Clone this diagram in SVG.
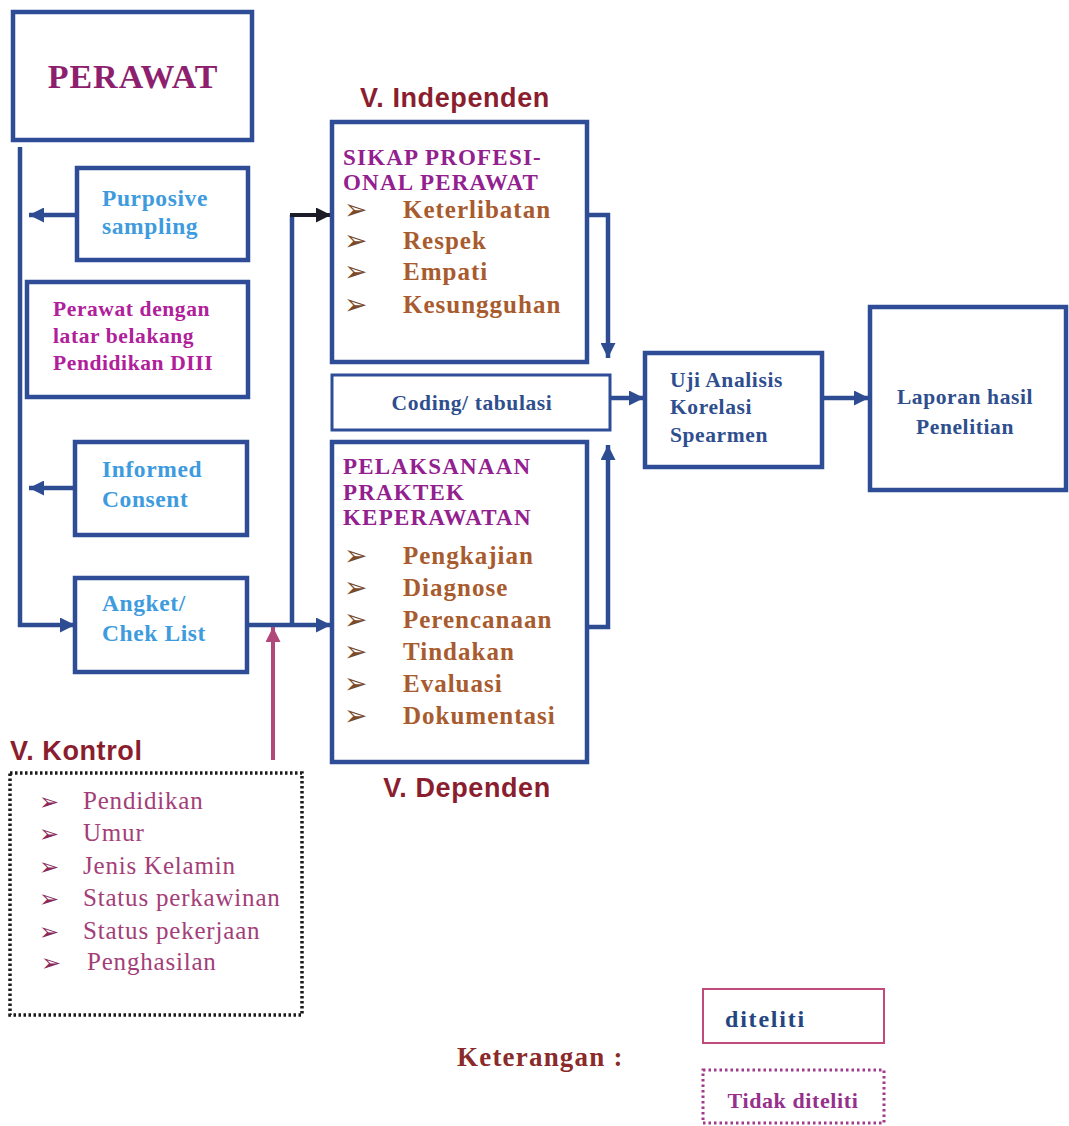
<svg xmlns="http://www.w3.org/2000/svg" width="1069" height="1126" viewBox="0 0 1069 1126">
<style>
.box{fill:#fff;stroke:#2F4D96;stroke-width:4.5}
.thin{fill:#fff;stroke:#2F4D96;stroke-width:3}
.dot{fill:none;stroke:#1a1a1a;stroke-width:3.5;stroke-dasharray:2.5 2.5}
.conn{fill:none;stroke:#2D4C92;stroke-width:4.5}
.serif{font-family:"Liberation Serif","Times New Roman",serif;font-weight:bold}
.sans{font-family:"Liberation Sans",Arial,sans-serif;font-weight:bold}
.lb{fill:#3E9BDE;font-size:23.5px;letter-spacing:0.6px}
.mg{fill:#B0209A;font-size:21.5px;letter-spacing:0.6px}
.hd{fill:#93208F;font-size:23px;letter-spacing:1.2px}
.it{fill:#A85B2E;font-size:25px;letter-spacing:1px}
.bl{fill:#7A4A2A;font-family:"DejaVu Sans",sans-serif;font-size:28px}
.nv{fill:#2E4E8E;font-size:21.5px;letter-spacing:0.6px}
.vl{fill:#8A1E2E;font-size:27px;letter-spacing:0.6px}
.kt{fill:#A33E78;font-family:"Liberation Serif","Times New Roman",serif;font-size:25px;letter-spacing:0.8px}
.kb{fill:#8A2A5A;font-family:"DejaVu Sans",sans-serif;font-size:24px}
</style>
<defs>
<marker id="ab" viewBox="0 0 10 10" refX="10" refY="5" markerWidth="15" markerHeight="15" markerUnits="userSpaceOnUse" orient="auto"><path d="M0,0 L10,5 L0,10 Z" fill="#2D4C92"/></marker>
<marker id="ak" viewBox="0 0 10 10" refX="10" refY="5" markerWidth="15" markerHeight="15" markerUnits="userSpaceOnUse" orient="auto"><path d="M0,0 L10,5 L0,10 Z" fill="#1C1C28"/></marker>
<marker id="ap" viewBox="0 0 10 10" refX="10" refY="5" markerWidth="15" markerHeight="15" markerUnits="userSpaceOnUse" orient="auto"><path d="M0,0 L10,5 L0,10 Z" fill="#B0487A"/></marker>
</defs>

<g id="connectors">
<path class="conn" d="M20,147 V625 H75" marker-end="url(#ab)"/>
<path class="conn" d="M77,215 H29" marker-end="url(#ab)"/>
<path class="conn" d="M75,488 H29" marker-end="url(#ab)"/>
<path class="conn" d="M247,625 H331" marker-end="url(#ab)"/>
<path class="conn" d="M292,625 V215"/>
<path fill="none" stroke="#1C1C28" stroke-width="4" d="M290,215 H331" marker-end="url(#ak)"/>
<path fill="none" stroke="#B0487A" stroke-width="4" d="M273,760 V627" marker-end="url(#ap)"/>
<path class="conn" d="M587,215 H608 V358" marker-end="url(#ab)"/>
<path class="conn" d="M587,627 H608 V445" marker-end="url(#ab)"/>
<path class="conn" d="M610,398 H644" marker-end="url(#ab)"/>
<path class="conn" d="M822,398 H869" marker-end="url(#ab)"/>
</g>

<g id="perawat">
<rect class="box" x="13" y="12" width="239" height="128"/>
<text class="serif" x="133" y="88" text-anchor="middle" font-size="34" letter-spacing="1" fill="#8E1F6E">PERAWAT</text>
</g>

<g id="purposive">
<rect class="box" x="77" y="168" width="171" height="92"/>
<text class="serif lb" x="102" y="206">Purposive</text>
<text class="serif lb" x="102" y="234">sampling</text>
</g>

<g id="perawat-diii">
<rect class="box" x="27" y="282" width="221" height="115"/>
<text class="serif mg" x="53" y="316">Perawat dengan</text>
<text class="serif mg" x="53" y="343">latar belakang</text>
<text class="serif mg" x="53" y="370">Pendidikan DIII</text>
</g>

<g id="informed">
<rect class="box" x="75" y="442" width="172" height="93"/>
<text class="serif lb" x="102" y="477">Informed</text>
<text class="serif lb" x="102" y="507">Consent</text>
</g>

<g id="angket">
<rect class="box" x="75" y="578" width="172" height="94"/>
<text class="serif lb" x="102" y="611">Angket/</text>
<text class="serif lb" x="102" y="641">Chek List</text>
</g>

<g id="v-independen">
<text class="sans vl" x="455" y="107" text-anchor="middle">V. Independen</text>
</g>

<g id="sikap">
<rect class="box" x="332" y="122" width="255" height="240"/>
<text class="serif hd" x="343" y="165">SIKAP PROFESI-</text>
<text class="serif hd" x="343" y="190">ONAL PERAWAT</text>
<text class="bl" x="344" y="219">➢</text>
<text class="serif it" x="403" y="218">Keterlibatan</text>
<text class="bl" x="344" y="250">➢</text>
<text class="serif it" x="403" y="249">Respek</text>
<text class="bl" x="344" y="281">➢</text>
<text class="serif it" x="403" y="280">Empati</text>
<text class="bl" x="344" y="314">➢</text>
<text class="serif it" x="403" y="313">Kesungguhan</text>
</g>

<g id="coding">
<rect class="thin" x="332" y="375" width="278" height="55"/>
<text class="serif nv" x="472" y="410" text-anchor="middle" letter-spacing="0.9">Coding/ tabulasi</text>
</g>

<g id="pelaksanaan">
<rect class="box" x="332" y="442" width="255" height="320"/>
<text class="serif hd" x="343" y="474">PELAKSANAAN</text>
<text class="serif hd" x="343" y="500">PRAKTEK</text>
<text class="serif hd" x="343" y="525">KEPERAWATAN</text>
<text class="bl" x="344" y="565">➢</text>
<text class="serif it" x="403" y="564">Pengkajian</text>
<text class="bl" x="344" y="597">➢</text>
<text class="serif it" x="403" y="596">Diagnose</text>
<text class="bl" x="344" y="629">➢</text>
<text class="serif it" x="403" y="628">Perencanaan</text>
<text class="bl" x="344" y="661">➢</text>
<text class="serif it" x="403" y="660">Tindakan</text>
<text class="bl" x="344" y="693">➢</text>
<text class="serif it" x="403" y="692">Evaluasi</text>
<text class="bl" x="344" y="725">➢</text>
<text class="serif it" x="403" y="724">Dokumentasi</text>
</g>

<g id="v-dependen">
<text class="sans vl" x="467" y="797" text-anchor="middle">V. Dependen</text>
</g>

<g id="uji">
<rect class="box" x="645" y="353" width="177" height="114"/>
<text class="serif nv" x="670" y="387">Uji Analisis</text>
<text class="serif nv" x="670" y="414">Korelasi</text>
<text class="serif nv" x="670" y="442">Spearmen</text>
</g>

<g id="laporan">
<rect class="box" x="870" y="307" width="196" height="183"/>
<text class="serif nv" x="965" y="404" text-anchor="middle">Laporan hasil</text>
<text class="serif nv" x="965" y="434" text-anchor="middle">Penelitian</text>
</g>

<g id="v-kontrol">
<text class="sans vl" x="10" y="760">V. Kontrol</text>
<rect class="dot" x="10" y="773" width="292" height="242"/>
<text class="kb" x="39" y="810">➢</text>
<text class="kt" x="83" y="809">Pendidikan</text>
<text class="kb" x="39" y="842">➢</text>
<text class="kt" x="83" y="841">Umur</text>
<text class="kb" x="39" y="875">➢</text>
<text class="kt" x="83" y="874">Jenis Kelamin</text>
<text class="kb" x="39" y="907">➢</text>
<text class="kt" x="83" y="906">Status perkawinan</text>
<text class="kb" x="39" y="940">➢</text>
<text class="kt" x="83" y="939">Status pekerjaan</text>
<text class="kb" x="41" y="971">➢</text>
<text class="kt" x="87" y="970">Penghasilan</text>
</g>

<g id="legend">
<text class="serif" x="457" y="1066" font-size="27" letter-spacing="1.2" fill="#8A2A2A">Keterangan :</text>
<rect x="703" y="989" width="181" height="54" fill="#fff" stroke="#C04A7A" stroke-width="2"/>
<text class="serif" x="725" y="1027" font-size="24" letter-spacing="1.8" fill="#24457F">diteliti</text>
<rect x="703" y="1070" width="181" height="53" fill="none" stroke="#A03A8A" stroke-width="3" stroke-dasharray="2.5 3"/>
<text class="serif" x="793" y="1108" text-anchor="middle" font-size="22" letter-spacing="0.6" fill="#96308C">Tidak diteliti</text>
</g>
</svg>
